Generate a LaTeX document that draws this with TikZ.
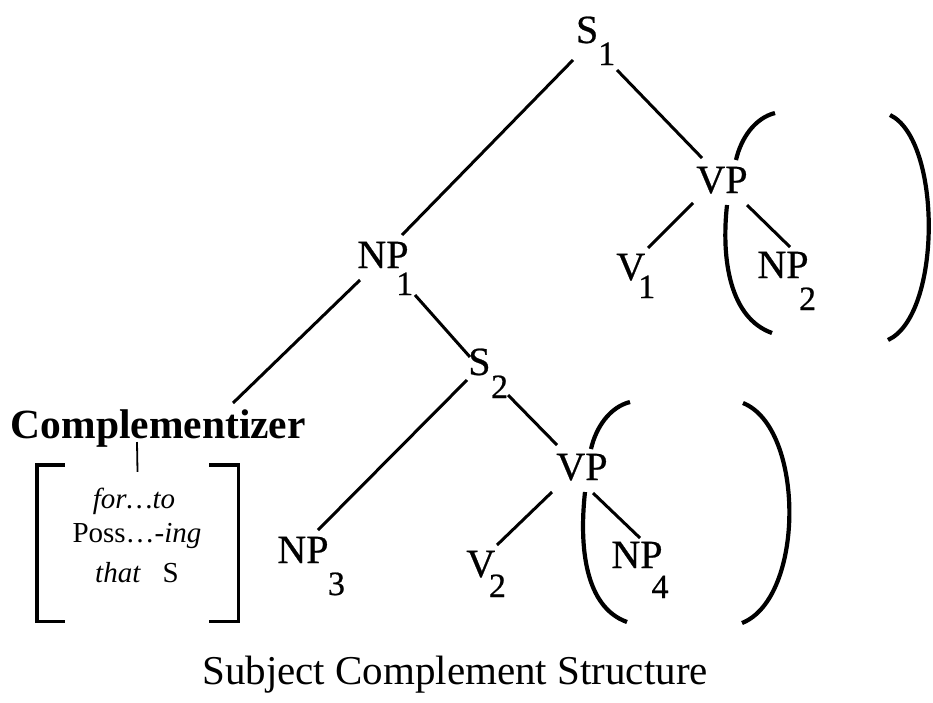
\documentclass[tikz,border=0pt]{standalone}
\usepackage{fontspec}
\setmainfont{Liberation Serif}
\newfontfamily\heavy{Liberation Serif}[FakeBold=0.6]
\newcommand\subsc[3]{\kern#1pt\raisebox{-#2pt}{\fontsize{34}{34}\selectfont #3}}
\begin{document}
\begin{tikzpicture}[x=1pt,y=-1pt,
  lab/.style={font=\heavy\fontsize{40}{48}\selectfont, inner sep=0pt, outer sep=0pt, anchor=base west},
  edge/.style={line width=3pt},
  paren/.style={line width=4.2pt},
  alt/.style={font=\fontsize{29}{34}\selectfont, inner sep=0pt, anchor=base},
  brk/.style={line width=3.4pt}]
\useasboundingbox (0,0) rectangle (933,702);

% tree labels
\node[lab] (S1)  at (576,43)    {S\subsc{0}{22}{1}};
\node[lab] (VPa) at (696.4,193) {VP};
\node[lab] (NP1) at (357.4,268) {NP\subsc{-12.3}{27}{1}};
\node[lab] (V1)  at (616.4,280) {V\subsc{-7.1}{18}{1}};
\node[lab] (NP2) at (757.4,278) {NP\subsc{-9.5}{32}{2}};
\node[lab] (S2)  at (468.3,375) {S\subsc{0.5}{23}{2}};
\node[lab] (VPb) at (556.4,480) {VP};
\node[lab] (NP3) at (277.4,563) {NP\subsc{-0.6}{32}{3}};
\node[lab] (V2)  at (466.4,577) {V\subsc{-6.3}{20}{2}};
\node[lab] (NP4) at (611.4,568) {NP\subsc{-11}{30}{4}};
\node[lab, font=\fontsize{41.5}{48}\selectfont\bfseries] (Comp) at (10.8,438) {Complementizer};

% alternatives box and its lines
\node[minimum width=201pt, minimum height=156pt, inner sep=0pt] (alts) at (137.5,543) {};
\node[alt] (alt1) at (134,508) {\textit{for\ldots to}};
\node[alt] (alt2) at (137,542) {Poss\ldots-\textit{ing}};
\node[alt] (alt3) at (137,582) {\textit{that}\hspace{0.75em}S};

% brackets
\draw[brk] ([xshift=28pt]alts.north west) -- (alts.north west) -- (alts.south west) -- ([xshift=28pt]alts.south west);
\draw[brk] ([xshift=-29pt]alts.north east) -- (alts.north east) -- (alts.south east) -- ([xshift=-29pt]alts.south east);
\draw[line width=1.8pt] ([shift={(126.2,4)}]Comp.base west) -- ([yshift=-7pt]alts.north);

% connectors
\draw[edge] ([shift={(-3,17)}]S1.base west) -- ([shift={(44.6,-33)}]NP1.base west);
\draw[edge] ([shift={(41,27)}]S1.base west) -- ([shift={(5.6,-35)}]VPa.base west);
\draw[edge] ([shift={(-3.4,10)}]VPa.base west) -- ([shift={(31.6,-32)}]V1.base west);
\draw[edge] ([shift={(50.6,12)}]VPa.base west) -- ([shift={(32.6,-31)}]NP2.base west);
\draw[edge] ([shift={(2.6,12)}]NP1.base west) -- ([shift={(222.2,-35)}]Comp.base west);
\draw[edge] ([shift={(57.6,27)}]NP1.base west) -- ([shift={(1.7,-18)}]S2.base west);
\draw[edge] ([shift={(-1.3,5)}]S2.base west) -- ([shift={(40.6,-33)}]NP3.base west);
\draw[edge] ([shift={(39.7,20)}]S2.base west) -- ([shift={(0.6,-35)}]VPb.base west);
\draw[edge] ([shift={(-4.4,12)}]VPb.base west) -- ([shift={(30.6,-32)}]V2.base west);
\draw[edge] ([shift={(36.6,13)}]VPb.base west) -- ([shift={(28.6,-30)}]NP4.base west);

% parentheses (upper VP)
\draw[paren] (775,113) .. controls (755,118) and (741,138) .. (736,160);
\draw[paren] (727,205) .. controls (721,260) and (730,318) .. (772,333);
\draw[paren] (890,115) .. controls (942,140) and (942,315) .. (888,340);
% parentheses (lower VP)
\begin{scope}[shift={(-145,289)}]
\draw[paren] (775,113) .. controls (755,118) and (741,138) .. (736,160);
\draw[paren] (730,203) .. controls (724,258) and (730,318) .. (772,333);
\end{scope}
\draw[paren] (743,403) .. controls (805,428) and (805,598) .. (742,623);

% caption
\node[font=\fontsize{41}{48}\selectfont, inner sep=0pt, anchor=base] (cap) at (455,684) {Subject Complement Structure};
\end{tikzpicture}
\end{document}
